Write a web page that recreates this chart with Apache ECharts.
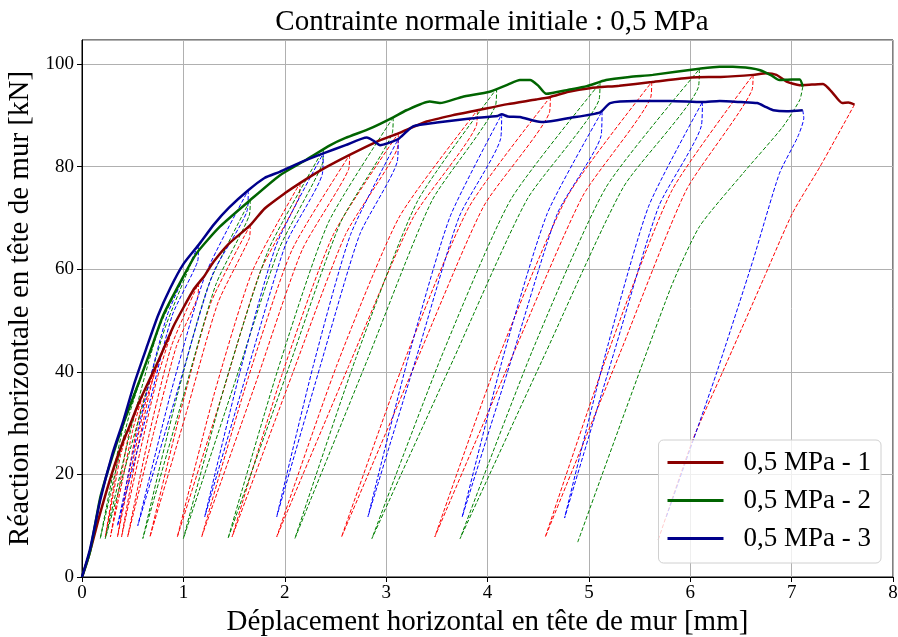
<!DOCTYPE html>
<html>
<head>
<meta charset="utf-8">
<script src="https://cdn.jsdelivr.net/npm/echarts@6/dist/echarts.min.js"></script>
<style>
  html, body { margin: 0; padding: 0; background: #fff; }
  #chart { width: 898px; height: 637px; }
</style>
</head>
<body>
<div id="chart"></div>
<script>
// courbes enveloppes (mm, kN)
var redEnvelope = [[0,0],[0.05,3],[0.1,6.5],[0.18,12.5],[0.3,20.5],[0.41,26.7],[0.45,28.5],[0.55,33.5],[0.64,37.4],[0.75,42],[0.9,48.8],[1.0,52.5],[1.1,56],[1.15,57.3],[1.2,58.5],[1.3,61.5],[1.45,65],[1.66,68.6],[1.8,71.8],[2.0,74.8],[2.15,76.8],[2.4,79.8],[2.64,82.3],[2.9,84.8],[3.12,86.5],[3.4,88.8],[3.65,90],[3.9,91],[4.2,92.2],[4.48,93.1],[4.62,93.6],[4.8,94.6],[5.01,95.3],[5.3,95.8],[5.62,96.5],[6.01,97.4],[6.3,97.5],[6.62,97.9],[6.75,98.2],[6.85,97.9],[6.95,96.6],[7.08,95.9],[7.2,96],[7.31,96.1],[7.4,94.5],[7.5,92.4],[7.56,92.5],[7.62,92.1]];
var greenEnvelope = [[0,0],[0.08,5],[0.18,15.5],[0.3,23.5],[0.41,30],[0.57,38.4],[0.7,45.5],[0.8,51],[0.97,57.5],[1.13,63.1],[1.36,68.3],[1.66,73.5],[1.95,78.3],[2.2,81.2],[2.45,84.2],[2.6,85.6],[2.85,87.5],[3.07,89.6],[3.2,91],[3.43,92.7],[3.53,92.4],[3.75,93.6],[4.02,94.6],[4.2,96],[4.32,96.9],[4.42,96.9],[4.5,95.8],[4.58,94.2],[4.8,95],[4.98,95.7],[5.17,96.9],[5.4,97.5],[5.63,97.9],[6.09,99.1],[6.29,99.5],[6.42,99.5],[6.6,99.2],[6.69,98.8],[6.8,97.8],[6.88,96.9],[7.0,97],[7.08,97],[7.11,95.6]];
var blueEnvelope = [[0,0],[0.08,5.5],[0.18,15],[0.3,24],[0.41,30.6],[0.52,38],[0.64,44.9],[0.75,51],[0.87,56.3],[1.0,61],[1.16,65],[1.3,68.7],[1.45,72],[1.64,75.4],[1.8,77.8],[1.95,79],[2.15,80.8],[2.38,82.6],[2.6,84.2],[2.81,85.7],[2.88,85],[2.94,84.2],[3.02,84.6],[3.12,85.4],[3.2,86.8],[3.27,87.9],[3.5,88.6],[3.83,89.4],[4.1,89.9],[4.14,90.2],[4.2,89.8],[4.32,89.7],[4.45,89],[4.55,88.7],[4.81,89.5],[5.11,90.6],[5.21,92.4],[5.47,92.8],[5.8,92.8],[6.12,92.6],[6.29,92.8],[6.5,92.6],[6.66,92.4],[6.75,91.6],[6.82,91],[6.95,90.8],[7.11,91]];

// cycles de décharge / recharge
var redCycles = [
  [[0.45,28.5],[0.38,23.7],[0.31,16.3],[0.23,7.8],[0.30,16.3],[0.36,23.7],[0.45,28.5]],
  [[0.6,35.5],[0.50,28.6],[0.40,18.9],[0.28,7.8],[0.38,18.9],[0.47,28.6],[0.6,35.5]],
  [[0.75,42],[0.62,33.5],[0.49,21.5],[0.35,7.8],[0.47,21.5],[0.59,33.5],[0.75,42]],
  [[0.9,48.8],[0.74,38.6],[0.57,24.2],[0.39,7.8],[0.54,24.2],[0.70,38.6],[0.9,48.8]],
  [[1.15,57.3],[1.14,54.5],[0.93,44.9],[0.70,27.6],[0.45,7.8],[0.66,27.6],[0.88,44.9],[1.15,57.3]],
  [[1.66,68.6],[1.65,66],[1.34,53.4],[1.03,32.1],[0.67,7.8],[0.97,32.1],[1.27,53.4],[1.66,68.6]],
  [[2.15,76.8],[2.14,74],[1.76,59.6],[1.38,35.4],[0.94,7.8],[1.30,35.4],[1.68,59.6],[2.15,76.8]],
  [[2.64,82.3],[2.63,79.5],[2.17,63.7],[1.71,37.6],[1.18,7.8],[1.62,37.6],[2.07,63.7],[2.64,82.3]],
  [[3.12,86.5],[3.11,83.5],[2.60,66.8],[2.07,39.3],[1.48,7.8],[1.97,39.3],[2.48,66.8],[3.12,86.5]],
  [[3.9,91],[3.89,88],[3.27,70.2],[2.63,41.1],[1.92,7.8],[2.51,41.1],[3.13,70.2],[3.9,91]],
  [[4.62,93.6],[4.61,90.5],[3.96,72.2],[3.30,42.1],[2.56,7.8],[3.18,42.1],[3.82,72.2],[4.62,93.6]],
  [[5.62,96.5],[5.61,93.5],[4.94,74.3],[4.25,43.3],[3.48,7.8],[4.12,43.3],[4.79,74.3],[5.62,96.5]],
  [[6.62,97.9],[6.61,95],[5.96,75.4],[5.31,43.8],[4.57,7.8],[5.19,43.8],[5.82,75.4],[6.62,97.9]],
  [[7.62,92.1],[7.28,80],[7.01,71],[6.72,58],[6.32,40],[6.03,27],[5.68,7]]
];
var greenCycles = [
  [[0.6,40],[0.47,31.9],[0.33,20.5],[0.18,7.5],[0.31,20.5],[0.44,31.9],[0.6,40]],
  [[1.1,62.3],[0.82,48.6],[0.54,29.4],[0.23,7.5],[0.49,29.4],[0.76,48.6],[1.1,62.3]],
  [[1.66,73.5],[1.65,70.5],[1.32,57],[0.98,33.9],[0.6,7.5],[0.92,33.9],[1.25,57],[1.66,73.5]],
  [[2.38,83.3],[2.37,80.5],[1.94,63.8],[1.50,37.5],[1.0,7.5],[1.41,37.5],[1.84,63.8],[2.38,83.3]],
  [[3.07,89.6],[3.06,86.5],[2.55,69.1],[2.03,40.3],[1.44,7.5],[1.93,40.3],[2.43,69.1],[3.07,89.6]],
  [[4.09,95.2],[4.08,92],[3.45,73.3],[2.82,42.6],[2.1,7.5],[2.70,42.6],[3.31,73.3],[4.09,95.2]],
  [[5.11,96.3],[5.10,93],[4.39,73.6],[3.67,42.7],[2.86,7.5],[3.54,42.7],[4.23,73.6],[5.11,96.3]],
  [[6.09,99],[6.08,95.5],[5.34,76],[4.58,44],[3.73,7.5],[4.44,44],[5.17,76],[6.09,99]],
  [[7.11,95.6],[7.08,93],[6.91,87.7],[6.52,78.7],[6.09,68.3],[5.8,56],[4.89,6.8]]
];
var blueCycles = [
  [[1.15,64.7],[1.14,61.5],[0.89,51],[0.64,31.9],[0.35,10],[0.59,31.9],[0.84,51],[1.15,64.7]],
  [[1.64,75.4],[1.63,71.5],[1.29,59.1],[0.94,36.2],[0.55,10],[0.88,36.2],[1.22,59.1],[1.64,75.4]],
  [[2.38,82.6],[2.37,78.5],[2.01,64.9],[1.63,40.1],[1.21,11.7],[1.56,40.1],[1.92,64.9],[2.38,82.6]],
  [[3.12,85.4],[3.11,81],[2.74,66.8],[2.35,41.1],[1.92,11.7],[2.28,41.1],[2.65,66.8],[3.12,85.4]],
  [[4.14,90.2],[4.13,85.5],[3.72,70.2],[3.30,42.9],[2.82,11.7],[3.22,42.9],[3.63,70.2],[4.14,90.2]],
  [[5.13,90.8],[5.12,86],[4.69,70.9],[4.25,43.3],[3.75,11.7],[4.16,43.3],[4.59,70.9],[5.13,90.8]],
  [[6.12,92.6],[6.11,88],[5.69,72.3],[5.25,43.9],[4.76,11.5],[5.17,43.9],[5.59,72.3],[6.12,92.6]],
  [[7.11,91],[7.12,89.5],[7.06,85.8],[6.88,78.7],[6.62,61.8],[6.26,39.8],[6.03,26.7],[5.76,11.5]]
];

var seriesNames = ['0,5 MPa - 1', '0,5 MPa - 2', '0,5 MPa - 3'];
var solidColors = ['#8b0000', '#006400', '#00008b'];
var dashColors = ['#ff0000', '#008000', '#0000ff'];
var xTicks = [0, 1, 2, 3, 4, 5, 6, 7, 8];
var yTicks = [0, 20, 40, 60, 80, 100];

var FONT = 'Liberation Serif';
var chart = echarts.init(document.getElementById('chart'));

var series = [];
var allCycles = [redCycles, greenCycles, blueCycles];
var envelopes = [redEnvelope, greenEnvelope, blueEnvelope];

// cycles en pointillés
for (var s = 0; s < 3; s++) {
  for (var i = 0; i < allCycles[s].length; i++) {
    series.push({
      type: 'line',
      data: allCycles[s][i],
      showSymbol: false,
      symbol: 'none',
      silent: true,
      smooth: 0.2,
      z: 2,
      lineStyle: { color: dashColors[s], width: 1, type: [4, 2] }
    });
  }
}
// enveloppes
for (var s = 0; s < 3; s++) {
  series.push({
    name: seriesNames[s],
    type: 'line',
    data: envelopes[s],
    showSymbol: false,
    symbol: 'none',
    smooth: 0.2,
    z: 3,
    color: solidColors[s],
    lineStyle: { color: solidColors[s], width: 2.5 }
  });
}

var option = {
  backgroundColor: '#fff',
  animation: false,
  title: {
    text: 'Contrainte normale initiale : 0,5 MPa',
    left: 487,
    textAlign: 'center',
    top: 3,
    textStyle: { fontFamily: FONT, fontSize: 29, fontWeight: 'normal', color: '#000' }
  },
  legend: {
    data: seriesNames,
    right: 17,
    bottom: 74,
    orient: 'vertical',
    icon: 'rect',
    itemWidth: 56,
    itemHeight: 3,
    itemGap: 11,
    padding: [9, 10, 11, 9],
    backgroundColor: 'rgba(255,255,255,0.8)',
    borderColor: '#d0d0d0',
    borderWidth: 1,
    borderRadius: 5,
    textStyle: { fontFamily: FONT, fontSize: 27, color: '#000', padding: [0, 0, 0, 15] }
  },
  grid: {
    left: 82, right: 5, top: 40, bottom: 60,
    containLabel: false,
    outerBoundsMode: 'none',
    show: true, borderColor: '#000', borderWidth: 1
  },
  xAxis: {
    type: 'value',
    min: 0, max: 8, interval: 1,
    name: 'Déplacement horizontal en tête de mur [mm]',
    nameLocation: 'middle',
    nameGap: 31,
    nameTextStyle: { fontFamily: FONT, fontSize: 29, color: '#000' },
    axisLine: { show: true, lineStyle: { color: '#000', width: 1 } },
    axisTick: { show: true, inside: false, length: 5, lineStyle: { color: '#000' } },
    axisLabel: {
      fontFamily: FONT, fontSize: 19, color: '#000', margin: 7,
      formatter: function (v) { return xTicks.indexOf(v) >= 0 ? String(v) : ''; }
    },
    splitLine: { show: true, lineStyle: { color: '#b0b0b0', width: 1 } }
  },
  yAxis: {
    type: 'value',
    min: 0, max: 104.7, interval: 20,
    name: 'Réaction horizontale en tête de mur [kN]',
    nameLocation: 'middle',
    nameGap: 46,
    nameTextStyle: { fontFamily: FONT, fontSize: 29, color: '#000' },
    axisLine: { show: true, lineStyle: { color: '#000', width: 1 } },
    axisTick: { show: true, inside: false, length: 5, lineStyle: { color: '#000' } },
    axisLabel: {
      fontFamily: FONT, fontSize: 19, color: '#000', margin: 8,
      showMaxLabel: false,
      formatter: function (v) { return yTicks.indexOf(v) >= 0 ? String(v) : ''; }
    },
    splitLine: { show: true, lineStyle: { color: '#b0b0b0', width: 1 } }
  },
  series: series
};

chart.setOption(option);
</script>
</body>
</html>
